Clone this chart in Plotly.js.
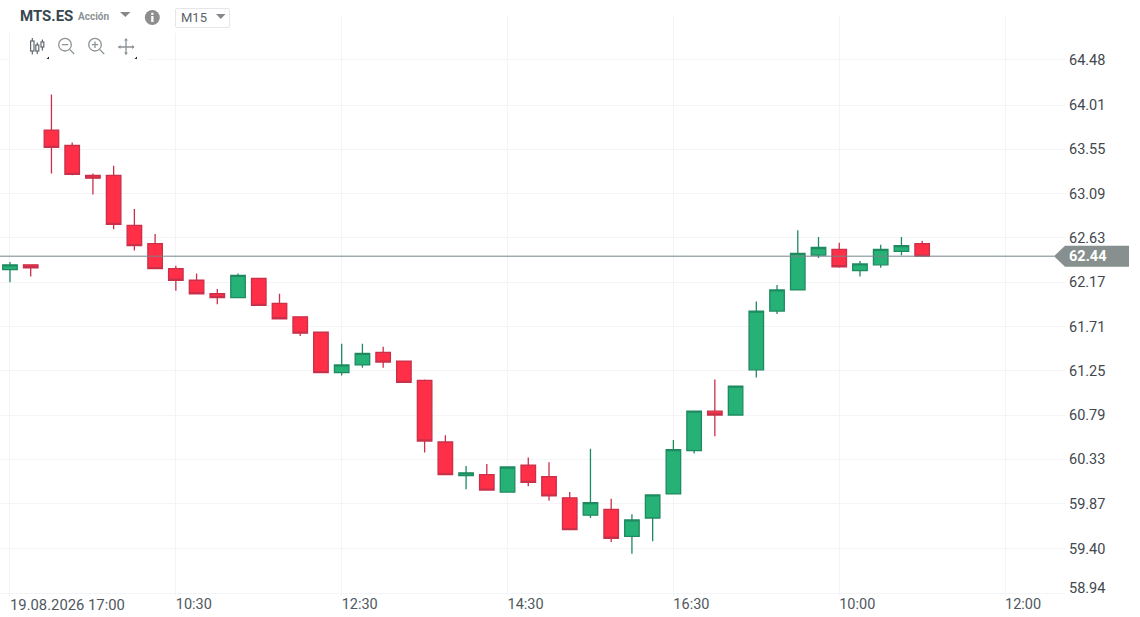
<!DOCTYPE html>
<html>
<head>
<meta charset="utf-8">
<script src="https://cdn.plot.ly/plotly-3.0.1.min.js"></script>
<style>
html,body{margin:0;padding:0;background:#fff;width:1140px;height:617px;overflow:hidden;font-family:Roboto,sans-serif}
#chart{position:absolute;left:0;top:0;width:1140px;height:617px}
.abs{position:absolute}
</style>
</head>
<body>
<div id="chart"></div>
<div class="abs" style="left:0;top:0;width:240px;height:33px;background:#fff"></div>
<div class="abs" style="left:10px;top:33px;width:138px;height:27px;background:#fff"></div>
<div class="abs" style="left:20px;top:7px;font-size:15px;font-weight:700;color:#37474f;line-height:18px">MTS.ES</div>
<div class="abs" style="left:78px;top:10px;font-size:10px;font-weight:700;color:#8d9295;line-height:13px">Acción</div>
<div class="abs" style="left:175px;top:8px;width:53px;height:18px;border:1px solid #e4e6e9;border-radius:2px"></div>
<div class="abs" style="left:181px;top:10px;font-size:13px;color:#5c6267;line-height:16px">M15</div>
<svg class="abs" style="left:0;top:0" width="240" height="62" viewBox="0 0 240 62">
  <path d="M120 12h10.5l-5.2 5z" fill="#85898c"/>
  <path d="M216 14h9.5l-4.7 5z" fill="#85898c"/>
  <circle cx="152.3" cy="17.5" r="7.5" fill="#8e8e8e"/>
  <rect x="151.2" y="16" width="2.3" height="6" fill="#fff"/><rect x="151.2" y="12.8" width="2.3" height="2" fill="#fff"/>
  <g stroke="#5f6a70" fill="none" stroke-width="1.2">
    <rect x="30.6" y="41" width="3.4" height="10"/><path d="M32.3 38v3M32.3 51v3.5"/>
    <rect x="35.8" y="45" width="3" height="6"/><path d="M37.3 42.5v2.5M37.3 51v3"/>
    <rect x="41" y="42" width="2.8" height="5"/><path d="M42.4 39.5v2.5M42.4 47v3.5"/>
  </g>
  <g stroke="#8c9396" fill="none" stroke-width="1.3">
    <circle cx="65" cy="44.7" r="6.3"/><path d="M61.8 44.7h6.4M69.6 49.4l4.6 4.6"/>
    <circle cx="95" cy="44.7" r="6.3"/><path d="M91.8 44.7h6.4M95 41.5v6.4M99.6 49.4l4.6 4.6"/>
    <path d="M118.5 47h15.5M126 39.5v15"/>
  </g>
  <path d="M126 38l-2 2.5h4zM126 55l-2-2.5h4zM118 47l2.5-2v4zM134.5 47l-2.5-2v4z" fill="#8c9396"/>
  <path d="M49 56.5v2.5h-2.5zM137 56.5v2.5h-2.5z" fill="#222"/>
</svg>
<script>
var xIndex = [0,1,2,3,4,5,6,7,8,9,10,11,12,13,14,15,16,17,18,19,20,21,22,23,24,25,26,27,28,29,30,31,32,33,34,35,36,37,38,39,40,41,42,43,44];
var openVals  = [62.30,62.35,63.75,63.59,63.28,63.28,62.76,62.57,62.31,62.19,62.05,62.01,62.21,61.95,61.81,61.65,61.23,61.31,61.44,61.35,61.15,60.51,60.16,60.17,59.99,60.27,60.15,59.93,59.75,59.81,59.53,59.72,59.97,60.42,60.83,60.79,61.26,61.87,62.09,62.45,62.51,62.29,62.35,62.49,62.57];
var highVals  = [62.38,62.35,64.12,63.62,63.30,63.38,62.93,62.67,62.34,62.26,62.10,62.26,62.21,62.05,61.81,61.65,61.53,61.53,61.50,61.35,61.16,60.58,60.26,60.28,60.25,60.35,60.30,59.99,60.44,59.92,59.76,59.96,60.53,60.83,61.16,61.09,61.97,62.14,62.71,62.64,62.58,62.39,62.56,62.64,62.60];
var lowVals   = [62.17,62.23,63.30,63.28,63.08,62.72,62.50,62.31,62.08,62.05,61.94,62.01,61.93,61.79,61.61,61.23,61.20,61.28,61.28,61.13,60.40,60.17,60.02,60.01,59.99,60.05,59.90,59.60,59.72,59.47,59.35,59.48,59.97,60.39,60.57,60.79,61.18,61.84,62.09,62.42,62.32,62.23,62.32,62.45,62.44];
var closeVals = [62.35,62.32,63.57,63.29,63.25,62.77,62.55,62.31,62.19,62.05,62.01,62.24,61.93,61.79,61.64,61.23,61.31,61.43,61.34,61.13,60.52,60.17,60.19,60.01,60.25,60.09,59.95,59.60,59.88,59.51,59.70,59.96,60.43,60.83,60.79,61.09,61.87,62.09,62.47,62.53,62.33,62.36,62.51,62.55,62.44];
var priceTicks = [64.48,64.01,63.55,63.09,62.63,62.17,61.71,61.25,60.79,60.33,59.87,59.40,58.94];
var priceLabels = ['64.48','64.01','63.55','63.09','62.63','62.17','61.71','61.25','60.79','60.33','59.87','59.40',''];
var bottomPriceLabel = '58.94';
var timeTicks = [0,8,16,24,32,40,48];
var timeLabels = ['','10:30','12:30','14:30','16:30','10:00','12:00'];
var firstTimeLabel = '19.08.2026 17:00';
var lastPrice = 62.44;

var textFont = {family:'Roboto, sans-serif', size:14.5, color:'#3f484f'};

var trace = {
  type:'candlestick', x:xIndex, open:openVals, high:highVals, low:lowVals, close:closeVals,
  increasing:{line:{color:'#1f8a60',width:1.3}, fillcolor:'#26b276'},
  decreasing:{line:{color:'#c9304a',width:1.3}, fillcolor:'#ff2f47'},
  whiskerwidth:0, hoverinfo:'skip', showlegend:false
};

var layout = {
  width:1140, height:617,
  margin:{l:0,r:75,t:16,b:21,pad:0},
  paper_bgcolor:'#fff', plot_bgcolor:'#fff',
  showlegend:false, boxgap:0.3, boxgroupgap:0, dragmode:false,
  xaxis:{
    type:'linear', range:[-0.482,50.89], tickmode:'array', tickvals:timeTicks, ticktext:timeLabels,
    showgrid:true, gridcolor:'#f3f4f7', gridwidth:1, zeroline:false, showline:false,
    ticks:'', tickfont:{family:'Roboto, sans-serif',size:14.5,color:'#50585e'},
    ticklabelshift:18, ticklabelstandoff:-3, rangeslider:{visible:false}, tickangle:0
  },
  yaxis:{
    side:'right', range:[58.91,64.935], tickmode:'array', tickvals:priceTicks, ticktext:priceLabels,
    showgrid:true, gridcolor:'#f3f4f7', gridwidth:1, zeroline:false, showline:false,
    ticks:'', ticklabelstandoff:3, tickfont:textFont, tickangle:0
  },
  shapes:[
    {type:'line', xref:'paper', yref:'y', x0:0, x1:0.99, y0:lastPrice, y1:lastPrice, line:{color:'#76848a',width:1}, layer:'above'},
    {type:'path', xref:'paper', yref:'y', xsizemode:'pixel', ysizemode:'pixel', xanchor:1, yanchor:lastPrice,
     path:'M -11 0 L 0 -10.5 L 64 -10.5 L 64 10.5 L 0 10.5 Z', fillcolor:'#87908f', line:{width:0}, layer:'above'}
  ],
  annotations:[
    {xref:'paper', yref:'y', x:1, y:lastPrice, xshift:2, xanchor:'left', yanchor:'middle', text:'<b>'+lastPrice.toFixed(2)+'</b>', showarrow:false, font:{family:'Roboto, sans-serif',size:14.5,color:'#fff'}},
    {xref:'paper', yref:'y', x:1, y:priceTicks[priceTicks.length-1], xshift:2, yshift:5, xanchor:'left', yanchor:'middle', text:bottomPriceLabel, showarrow:false, font:textFont},
    {xref:'x', yref:'paper', x:timeTicks[0], y:0, yshift:2, xshift:-2, xanchor:'left', yanchor:'top', text:firstTimeLabel, showarrow:false, font:{family:'Roboto, sans-serif',size:14.8,color:'#50585e'}}
  ]
};
Plotly.newPlot('chart',[trace],layout,{displayModeBar:false,responsive:false});
</script>
</body>
</html>
